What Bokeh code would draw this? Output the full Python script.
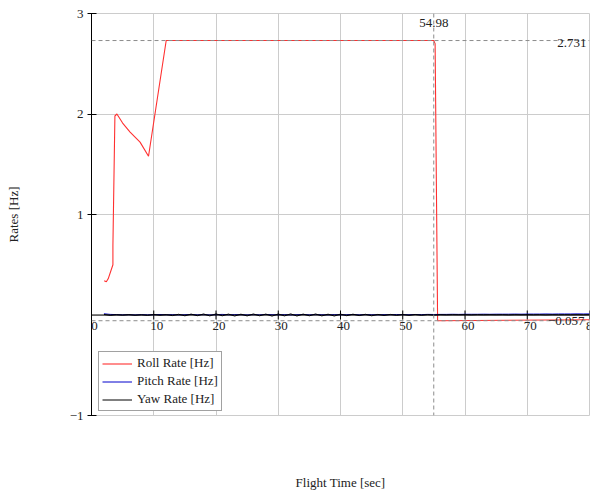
import numpy as np
from bokeh.plotting import figure
from bokeh.models import (Range1d, FixedTicker, Span, Label, LabelSet, ColumnDataSource,
                          Legend, LegendItem)
from bokeh.embed import file_html
from bokeh.resources import INLINE

# ---------------- data ----------------
roll_t = [2.04, 2.38, 2.68, 3.44, 3.44, 3.76, 4.08, 5.0, 6.2, 7.8, 9.16, 10.0, 12.0,
          54.98, 55.2, 55.6, 80.0]
roll_v = [0.34, 0.33, 0.36, 0.50, 0.69, 1.98, 2.00, 1.91, 1.82, 1.72, 1.58, 1.92, 2.731,
          2.731, 2.70, -0.057, -0.047]

noise_t = [2, 3, 4, 5, 6, 7, 8, 9, 10, 11, 12, 13, 14, 15, 16, 17, 18, 19, 20,
           21, 22, 23, 24, 25, 26, 27, 28, 29, 30, 31, 32, 33, 34, 35, 36, 37, 38, 39, 40,
           41, 42, 43, 44, 45, 46, 47, 48, 49, 50, 51, 52, 53, 54, 55, 56, 57, 58, 59, 60,
           61, 62, 63, 64, 65, 66, 67, 68, 69, 70, 71, 72, 73, 74, 75, 76, 77, 78, 79, 80]
pitch_v = [0.012, 0.006, 0.004, 0.002, 0.003, 0.001, 0.004, 0.002, 0.003, 0.005, 0.002, 0.004,
           0.001, 0.003, 0.005, 0.002, 0.004, 0.001, 0.003, 0.006, 0.002, 0.004, 0.003, 0.001,
           0.004, 0.002, 0.005, 0.003, 0.002, 0.004, 0.001, 0.003, 0.005, 0.002, 0.004, 0.003,
           0.001, 0.004, 0.002, 0.003, 0.005, 0.002, 0.004, 0.003, 0.002, 0.004, 0.003, 0.005,
           0.004, 0.003, 0.005, 0.004, 0.006, 0.005, 0.006, 0.006, 0.007, 0.006, 0.007, 0.007,
           0.007, 0.008, 0.007, 0.008, 0.008, 0.008, 0.009, 0.008, 0.009, 0.009, 0.009, 0.010,
           0.009, 0.010, 0.010, 0.010, 0.011, 0.010, 0.011]
yaw_v = [0.006, -0.004, 0.003, -0.002, 0.004, -0.003, 0.002, -0.004, 0.005, -0.003, 0.004,
         -0.006, 0.007, -0.008, 0.009, -0.007, 0.010, -0.009, 0.011, -0.008, 0.009, -0.010,
         0.008, -0.009, 0.010, -0.008, 0.009, -0.011, 0.010, -0.009, 0.011, -0.010, 0.009,
         -0.008, 0.010, -0.009, 0.008, -0.010, 0.009, -0.007, 0.008, -0.006, 0.007, -0.008,
         0.006, -0.005, 0.006, -0.004, 0.005, -0.004, 0.005, -0.003, 0.004, -0.002, 0.003,
         0.001, 0.003, 0.002, 0.003, 0.001, 0.003, 0.002, 0.003, 0.002, 0.003, 0.001, 0.003,
         0.002, 0.003, 0.002, 0.003, 0.001, 0.003, 0.002, 0.003, 0.002, 0.003, 0.002, 0.003]

x_ticks = [0, 10, 20, 30, 40, 50, 60, 70, 80]
x_tick_labels = ["0", "10", "20", "30", "40", "50", "60", "70", "80"]
y_ticks = [-1, 1, 2, 3]
y_tick_labels = {-1: "\u22121", 1: "1", 2: "2", 3: "3"}

marker_x = 54.98
marker_y_top = 2.731
marker_y_low = -0.057

series_names = ["Roll Rate [Hz]", "Pitch Rate [Hz]", "Yaw Rate [Hz]"]

FONT = "Liberation Serif"
GRID = "#cccccc"
DASH = "#8c8c8c"

# ---------------- figure ----------------
p = figure(width=598, height=492, x_range=Range1d(0, 80), y_range=Range1d(-1, 3),
           output_backend="svg", toolbar_location=None,
           min_border_left=91, min_border_right=9, min_border_top=13, min_border_bottom=75)
p.background_fill_color = "white"
p.border_fill_color = "white"
p.outline_line_color = GRID
p.outline_line_width = 1

# grids
p.xgrid.ticker = FixedTicker(ticks=x_ticks)
p.ygrid.ticker = FixedTicker(ticks=[-1, 0, 1, 2, 3])
p.xgrid.grid_line_color = GRID
p.ygrid.grid_line_color = GRID
p.xgrid.grid_line_width = 1
p.ygrid.grid_line_width = 1

# y axis (left)
ya = p.yaxis[0]
ya.ticker = FixedTicker(ticks=y_ticks)
ya.major_label_overrides = y_tick_labels
ya.major_tick_in = 5
ya.major_tick_out = 4
ya.minor_tick_line_color = None
ya.axis_line_color = "black"
ya.major_tick_line_color = "black"
ya.major_label_text_font = FONT
ya.major_label_text_font_size = "13px"
ya.major_label_text_color = "#222222"
ya.major_label_standoff = 4
ya.major_label_orientation = "horizontal"
ya.axis_label = "Rates [Hz]"
ya.axis_label_text_font = FONT
ya.axis_label_text_font_style = "normal"
ya.axis_label_text_font_size = "13px"
ya.axis_label_text_color = "#222222"
ya.axis_label_standoff = 46

# x axis (below) only carries the title; ticks are drawn at y = 0
xa = p.xaxis[0]
xa.ticker = FixedTicker(ticks=[])
xa.axis_line_color = None
xa.major_tick_line_color = None
xa.minor_tick_line_color = None
xa.major_tick_out = 0
xa.major_tick_in = 0
xa.axis_label = "Flight Time [sec]"
xa.axis_label_text_font = FONT
xa.axis_label_text_font_style = "normal"
xa.axis_label_text_font_size = "13px"
xa.axis_label_text_color = "#222222"
xa.axis_label_standoff = 59

# crossing x axis at y = 0
p.add_layout(Span(location=0, dimension="width", line_color="black", line_width=1))
p.scatter(x=x_ticks, y=[0] * len(x_ticks), marker="dash", size=9, angle=np.pi / 2,
          line_color="black", line_width=1)
tick_src = ColumnDataSource(dict(x=x_ticks, y=[0] * len(x_ticks), t=x_tick_labels))
p.add_layout(LabelSet(x="x", y="y", text="t", source=tick_src, x_offset=3, y_offset=-7,
                      text_align="center", text_baseline="top", text_font=FONT,
                      text_font_size="13px", text_color="#222222"))

# marker lines
p.add_layout(Span(location=marker_x, dimension="height", line_color=DASH,
                  line_dash="4 3", line_width=1))
p.add_layout(Span(location=marker_y_top, dimension="width", line_color=DASH,
                  line_dash="4 3", line_width=1))
p.add_layout(Span(location=marker_y_low, dimension="width", line_color=DASH,
                  line_dash="4 3", line_width=1))

# data lines
r_roll = p.line(roll_t, roll_v, line_color="#ff3030", line_width=1.1)
r_pitch = p.line(noise_t, pitch_v, line_color="#0000cc", line_width=1)
r_yaw = p.line(noise_t, yaw_v, line_color="black", line_width=1)

# marker labels
p.add_layout(Label(x=marker_x, y=3, y_offset=-5, text=f"{marker_x:.2f}", text_align="center",
                   text_baseline="top", text_font=FONT, text_font_size="13px",
                   text_color="#222222"))
p.add_layout(Label(x=80, y=marker_y_top, x_offset=-3, y_offset=-2, text=f"{marker_y_top:.3f}",
                   text_align="right", text_baseline="middle", text_font=FONT,
                   text_font_size="13px", text_color="#222222"))
p.add_layout(Label(x=80, y=marker_y_low, x_offset=-5, y_offset=0,
                   text="\u2212" + f"{abs(marker_y_low):.3f}",
                   text_align="right", text_baseline="middle", text_font=FONT,
                   text_font_size="13px", text_color="#222222"))

legend = Legend(items=[LegendItem(label=series_names[0], renderers=[r_roll]),
                       LegendItem(label=series_names[1], renderers=[r_pitch]),
                       LegendItem(label=series_names[2], renderers=[r_yaw])],
                location=(7, 4), orientation="vertical")
legend.label_text_font = FONT
legend.label_text_font_size = "13px"
legend.label_text_color = "#222222"
legend.glyph_width = 30
legend.glyph_height = 15
legend.label_height = 15
legend.spacing = 2
legend.padding = 3
legend.margin = 0
legend.label_standoff = 5
legend.border_line_color = "#444444"
legend.border_line_width = 1
legend.background_fill_color = "white"
legend.background_fill_alpha = 1
p.add_layout(legend, "center")

open("out.html", "w").write(file_html(p, INLINE))
